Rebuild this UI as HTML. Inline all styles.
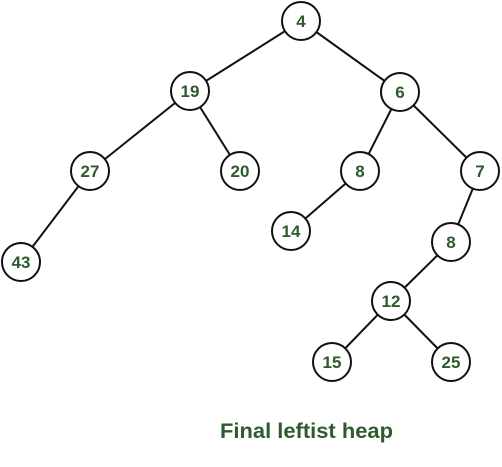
<!DOCTYPE html>
<html><head><style>body{margin:0;background:#fff}</style></head><body>
<svg width="502" height="462" xmlns="http://www.w3.org/2000/svg">
<g stroke="#111" stroke-width="2">
<line x1="301" y1="21" x2="190" y2="91"/>
<line x1="301" y1="21" x2="400" y2="92"/>
<line x1="190" y1="91" x2="90" y2="171"/>
<line x1="190" y1="91" x2="240" y2="171"/>
<line x1="400" y1="92" x2="360" y2="171"/>
<line x1="400" y1="92" x2="480" y2="171"/>
<line x1="90" y1="171" x2="21" y2="262"/>
<line x1="360" y1="171" x2="291" y2="231"/>
<line x1="480" y1="171" x2="451" y2="242"/>
<line x1="451" y1="242" x2="391" y2="301"/>
<line x1="391" y1="301" x2="332" y2="362"/>
<line x1="391" y1="301" x2="451" y2="362"/>
</g>
<g fill="#fff" stroke="#111" stroke-width="2">
<circle cx="301" cy="21" r="19"/><circle cx="190" cy="91" r="19"/><circle cx="400" cy="92" r="19"/>
<circle cx="90" cy="171" r="19"/><circle cx="240" cy="171" r="19"/><circle cx="360" cy="171" r="19"/>
<circle cx="480" cy="171" r="19"/><circle cx="21" cy="262" r="19"/><circle cx="291" cy="231" r="19"/>
<circle cx="451" cy="242" r="19"/><circle cx="391" cy="301" r="19"/><circle cx="332" cy="362" r="19"/>
<circle cx="451" cy="362" r="19"/>
</g>
<g fill="#2e5a2e" font-family="Liberation Sans, sans-serif" font-weight="bold" font-size="17" text-anchor="middle">
<text x="301" y="27">4</text><text x="190" y="97">19</text><text x="400" y="98">6</text>
<text x="90" y="177">27</text><text x="240" y="177">20</text><text x="360" y="177">8</text>
<text x="480" y="177">7</text><text x="21" y="268">43</text><text x="291" y="237">14</text>
<text x="451" y="248">8</text><text x="391" y="307">12</text><text x="332" y="368">15</text>
<text x="451" y="368">25</text>
</g>
<text x="220" y="438" fill="#2e5a2e" font-family="Liberation Sans, sans-serif" font-weight="bold" font-size="21" textLength="173" lengthAdjust="spacingAndGlyphs">Final leftist heap</text>
</svg>
</body></html>
